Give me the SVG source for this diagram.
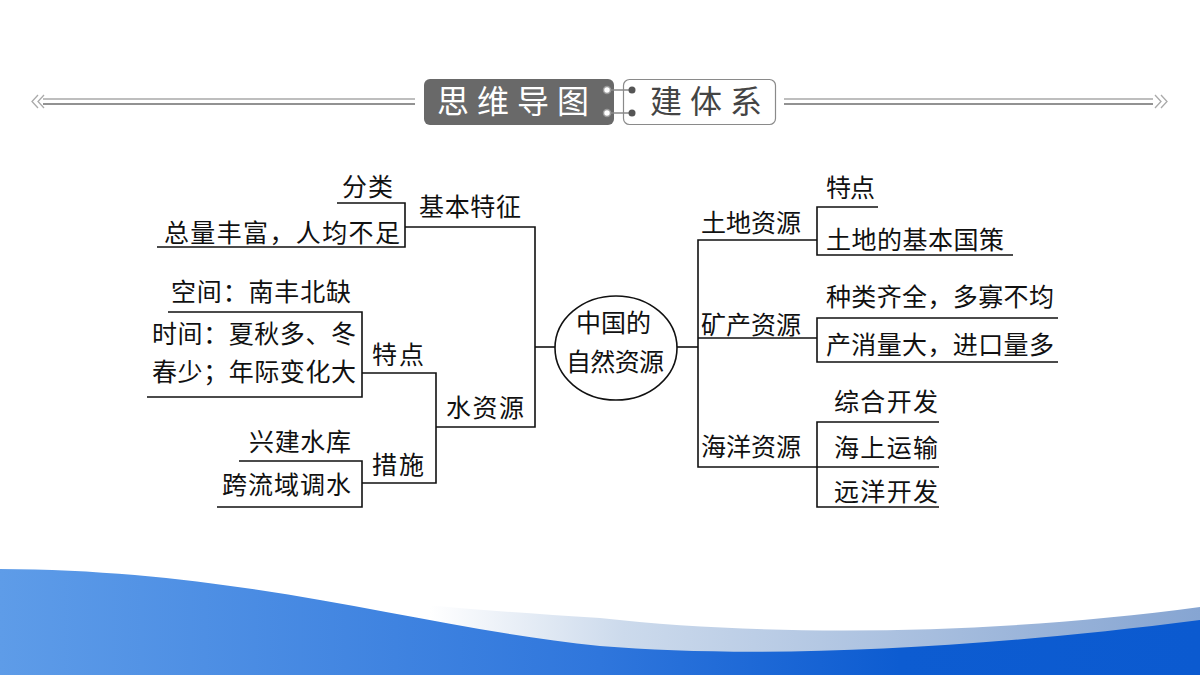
<svg xmlns="http://www.w3.org/2000/svg" width="1200" height="675" viewBox="0 0 1200 675">
<defs>
<linearGradient id="blueG" x1="0" y1="0" x2="1200" y2="0" gradientUnits="userSpaceOnUse">
<stop offset="0" stop-color="#5e9ce8"/>
<stop offset="0.5" stop-color="#2f76dc"/>
<stop offset="0.75" stop-color="#0d5cd1"/>
<stop offset="1" stop-color="#0b5ad0"/>
</linearGradient>
<linearGradient id="bandG" x1="430" y1="0" x2="1200" y2="0" gradientUnits="userSpaceOnUse">
<stop offset="0" stop-color="#ffffff"/>
<stop offset="0.25" stop-color="#ccdaec"/>
<stop offset="1" stop-color="#86a5d2"/>
</linearGradient>
<style>
.t{font-family:"Noto Sans CJK SC","Noto Sans",sans-serif;font-size:25px;fill:#111;}
.ln{fill:none;stroke:#111;stroke-width:1.6;}
.hd{font-family:"Noto Sans CJK SC","Noto Sans",sans-serif;font-size:32px;letter-spacing:8px;}
</style>
</defs>
<rect width="1200" height="675" fill="#ffffff"/>

<g id="background-wave">
<path d="M330,596 C420,605 500,612 600,618 C780,638 1000,634 1200,607 L1200,675 L330,675 Z" fill="url(#bandG)"/>
<path d="M0,569 C250,570 420,628 600,646 C750,658 950,652 1200,620 L1200,675 L0,675 Z" fill="url(#blueG)"/>
</g>

<g id="header">
<line x1="43" y1="99" x2="415" y2="99" stroke="#a8a8a8" stroke-width="1.5"/>
<line x1="43" y1="104" x2="415" y2="104" stroke="#6e6e6e" stroke-width="1.5"/>
<path d="M38,95 L32,101.5 L38,108 M44,95 L38,101.5 L44,108" fill="none" stroke="#aaa" stroke-width="1.3"/>
<line x1="784" y1="99" x2="1153" y2="99" stroke="#a8a8a8" stroke-width="1.5"/>
<line x1="784" y1="104" x2="1153" y2="104" stroke="#6e6e6e" stroke-width="1.5"/>
<path d="M1155,95 L1161,101.5 L1155,108 M1161,95 L1167,101.5 L1161,108" fill="none" stroke="#aaa" stroke-width="1.3"/>
<rect x="424" y="79" width="190" height="46" rx="6" fill="#696969"/>
<text class="hd" x="437" y="113" fill="#ffffff">思维导图</text>
<rect x="623.5" y="79.5" width="152" height="45" rx="6" fill="#ffffff" stroke="#8a8a8a" stroke-width="1.2"/>
<text class="hd" x="650" y="113" fill="#444">建体系</text>
<line x1="607" y1="90" x2="632" y2="90" stroke="#888" stroke-width="1.5"/>
<line x1="607" y1="113" x2="632" y2="113" stroke="#888" stroke-width="1.5"/>
<circle cx="607" cy="90" r="3.5" fill="#fff" stroke="#999" stroke-width="1.5"/>
<circle cx="607" cy="113" r="3.5" fill="#fff" stroke="#999" stroke-width="1.5"/>
<circle cx="632" cy="90" r="3.5" fill="#555"/>
<circle cx="632" cy="113" r="3.5" fill="#555"/>
</g>

<g id="connectors">
<path class="ln" d="M337,203 H405 V247 H157"/>
<path class="ln" d="M405,227 H535 V427 H436"/>
<path class="ln" d="M535,347 H556"/>
<path class="ln" d="M168,312 H362 V397 H147"/>
<path class="ln" d="M362,373 H436 V483 H362"/>
<path class="ln" d="M239,461 H362 V507 H217"/>
<path class="ln" d="M677,347 H698"/>
<path class="ln" d="M817,240 H698 V467 H817"/>
<path class="ln" d="M698,338 H817"/>
<path class="ln" d="M878,207 H817 V255 H1013"/>
<path class="ln" d="M1058,318 H817 V362 H1058"/>
<path class="ln" d="M939,422 H817 V507 H939"/>
<path class="ln" d="M817,467 H939"/>
</g>

<g id="center">
<ellipse cx="616" cy="348" rx="61" ry="52" fill="#fff" stroke="#111" stroke-width="1.6"/>
<text class="t" x="576" y="332" textLength="75" lengthAdjust="spacing">中国的</text>
<text class="t" x="566" y="371" textLength="98" lengthAdjust="spacing">自然资源</text>
</g>

<g id="n-jibentezheng"><text class="t" x="419" y="216" textLength="102" lengthAdjust="spacing">基本特征</text></g>
<g id="n-fenlei"><text class="t" x="342" y="196" textLength="51" lengthAdjust="spacing">分类</text></g>
<g id="n-zongliang"><text class="t" x="164" y="242" textLength="236" lengthAdjust="spacing">总量丰富，人均不足</text></g>
<g id="n-shuiziyuan"><text class="t" x="446" y="417" textLength="78" lengthAdjust="spacing">水资源</text></g>
<g id="n-tedian-l"><text class="t" x="372" y="364" textLength="52" lengthAdjust="spacing">特点</text></g>
<g id="n-kongjian"><text class="t" x="171" y="301" textLength="180" lengthAdjust="spacing">空间：南丰北缺</text></g>
<g id="n-shijian">
<text class="t" x="152" y="343" textLength="204" lengthAdjust="spacing">时间：夏秋多、冬</text>
<text class="t" x="152" y="381" textLength="204" lengthAdjust="spacing">春少；年际变化大</text>
</g>
<g id="n-cuoshi"><text class="t" x="372" y="474" textLength="52" lengthAdjust="spacing">措施</text></g>
<g id="n-xingjian"><text class="t" x="249" y="451" textLength="102" lengthAdjust="spacing">兴建水库</text></g>
<g id="n-kualiuyu"><text class="t" x="222" y="494" textLength="129" lengthAdjust="spacing">跨流域调水</text></g>

<g id="n-tudi"><text class="t" x="701" y="232" textLength="100" lengthAdjust="spacing">土地资源</text></g>
<g id="n-tedian-r"><text class="t" x="826" y="197" textLength="49" lengthAdjust="spacing">特点</text></g>
<g id="n-guoce"><text class="t" x="826" y="249" textLength="178" lengthAdjust="spacing">土地的基本国策</text></g>
<g id="n-kuangchan"><text class="t" x="701" y="334" textLength="100" lengthAdjust="spacing">矿产资源</text></g>
<g id="n-zhonglei"><text class="t" x="826" y="306" textLength="228" lengthAdjust="spacing">种类齐全，多寡不均</text></g>
<g id="n-chanxiao"><text class="t" x="826" y="354" textLength="228" lengthAdjust="spacing">产消量大，进口量多</text></g>
<g id="n-haiyang"><text class="t" x="701" y="456" textLength="100" lengthAdjust="spacing">海洋资源</text></g>
<g id="n-zonghe"><text class="t" x="834" y="411" textLength="104" lengthAdjust="spacing">综合开发</text></g>
<g id="n-haishang"><text class="t" x="834" y="457" textLength="104" lengthAdjust="spacing">海上运输</text></g>
<g id="n-yuanyang"><text class="t" x="834" y="501" textLength="104" lengthAdjust="spacing">远洋开发</text></g>
</svg>
